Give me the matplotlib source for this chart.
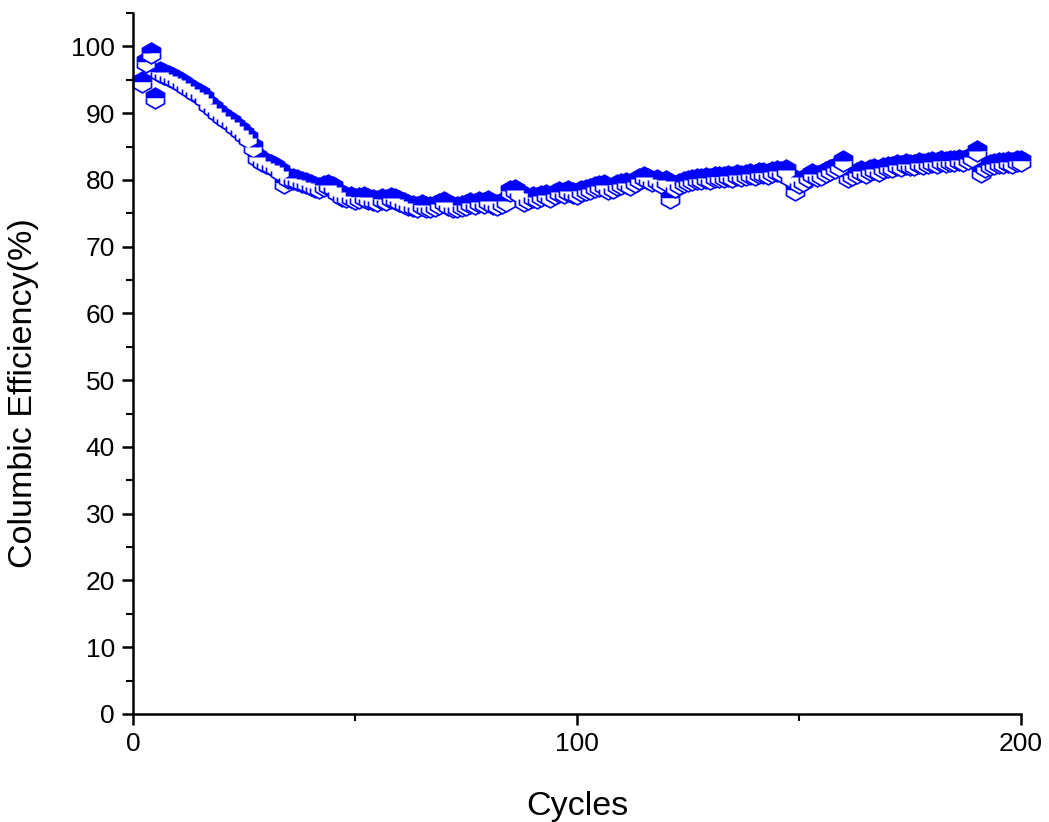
import matplotlib
matplotlib.use("Agg")
import matplotlib.pyplot as plt
from matplotlib.ticker import MultipleLocator


cycles = list(range(2, 201))
efficiency = [
    94.6, 97.6, 99.0, 92.2, 96.1, 95.8, 95.6, 95.2, 94.9, 94.5,
    94.1, 93.6, 93.1, 92.8, 92.2, 91.3, 90.7, 90.2, 89.6, 89.1,
    88.6, 88.0, 87.4, 86.9, 86.3, 85.0, 83.4, 82.9, 82.6, 82.3,
    82.0, 81.4, 79.6, 80.3, 80.1, 80.0, 79.7, 79.5, 79.2, 78.9,
    78.8, 79.1, 79.3, 78.9, 78.2, 77.6, 77.4, 77.5, 77.2, 77.3,
    77.5, 77.2, 77.0, 76.8, 77.2, 77.0, 77.3, 77.1, 76.8, 76.6,
    76.2, 76.1, 76.0, 76.2, 76.0, 75.9, 76.1, 76.4, 76.7, 76.2,
    76.0, 75.9, 76.1, 76.3, 76.5, 76.4, 76.7, 76.6, 76.9, 76.4,
    76.2, 76.6, 76.9, 78.3, 78.5, 78.1, 76.9, 77.2, 77.5, 77.3,
    77.6, 77.8, 77.5, 77.9, 78.2, 78.0, 78.4, 78.1, 77.9, 78.3,
    78.5, 78.7, 78.9, 79.1, 79.3, 78.6, 78.8, 79.2, 79.4, 79.6,
    79.3, 79.7, 80.1, 80.4, 80.2, 79.8, 80.0, 79.6, 79.9, 77.3,
    78.9, 79.4, 79.7, 79.9, 80.0, 80.1, 80.2, 80.3, 80.2, 80.4,
    80.5, 80.4, 80.6, 80.5, 80.7, 80.6, 80.8, 80.9, 80.7, 81.0,
    81.1, 80.9, 81.2, 81.3, 81.2, 81.5, 80.4, 78.5, 79.6, 79.8,
    80.4, 80.9, 80.6, 80.8, 81.2, 81.5, 81.8, 82.1, 82.9, 80.4,
    80.7, 81.0, 81.3, 81.1, 81.5, 81.6, 81.4, 81.8, 81.9, 82.0,
    82.2, 82.1, 82.4, 82.3, 82.2, 82.5, 82.4, 82.6, 82.7, 82.5,
    82.8, 82.7, 82.9, 82.8, 83.0, 82.9, 83.2, 83.5, 84.4, 81.2,
    82.0, 82.3, 82.4, 82.6, 82.5, 82.7, 82.6, 82.8, 82.9,
]

plt.rcParams["font.family"] = ["Liberation Sans", "DejaVu Sans"]

fig = plt.figure(figsize=(10.49, 8.22), dpi=100)
ax = fig.add_axes([0.1268, 0.1314, 0.8465, 0.8528])

ax.plot(cycles, efficiency, linestyle="none", marker="h", markersize=15,
        color="#0000FF", markerfacecolor="#0000FF", markerfacecoloralt="white",
        fillstyle="top", markeredgecolor="#0000FF", markeredgewidth=1.2,
        clip_on=False)

ax.set_xlim(0, 200)
ax.set_ylim(0, 105)
ax.xaxis.set_major_locator(MultipleLocator(100))
ax.xaxis.set_minor_locator(MultipleLocator(50))
ax.yaxis.set_major_locator(MultipleLocator(10))
ax.yaxis.set_minor_locator(MultipleLocator(5))

for side in ("top", "right"):
    ax.spines[side].set_visible(False)
for side in ("left", "bottom"):
    ax.spines[side].set_linewidth(1.8)

ax.tick_params(which="major", direction="out", length=8, width=1.8,
               labelsize=19, pad=5)
ax.tick_params(which="minor", direction="out", length=5, width=1.5)

ax.set_xlabel("Cycles", fontsize=24.5, labelpad=25)
ax.set_ylabel("Columbic Efficiency(%)", fontsize=24.5)
ax.yaxis.set_label_coords(-0.106, 0.458)

fig.savefig("out.png", dpi=100)
